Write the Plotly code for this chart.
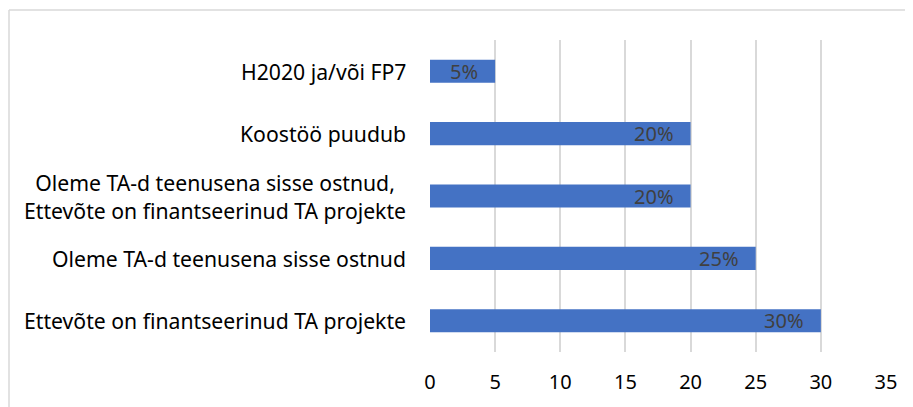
import plotly.graph_objects as go

categories = [
    "Ettevõte on finantseerinud TA projekte",
    "Oleme TA-d teenusena sisse ostnud",
    "Oleme TA-d teenusena sisse ostnud,<br>Ettevõte on finantseerinud TA projekte",
    "Koostöö puudub",
    "H2020 ja/või FP7",
]
values = [30, 25, 20, 20, 5]
labels = ["30%", "25%", "20%", "20%", "5%"]
x_ticks = [0, 5, 10, 15, 20, 25, 30, 35]

FONT = "Noto Sans"
OFF = 8  # page body margin
W, H = 913 - OFF, 407 - OFF
L, R, T, B = 430 - OFF, 27, 40 - OFF, 55

fig = go.Figure()
fig.add_trace(go.Bar(
    x=values, y=categories, orientation="h",
    marker=dict(color="#4472C4", line=dict(width=0)),
    width=0.37, hoverinfo="skip",
))
for v, c, t in zip(values, categories, labels):
    fig.add_annotation(x=v, y=c, text=t, showarrow=False, xanchor="right",
                       xshift=-15, font=dict(family=FONT, size=20, color="#404040"))
for c in categories:
    fig.add_annotation(x=0, xref="paper", y=c, text=c, showarrow=False,
                       xanchor="right", align="center", xshift=-22,
                       font=dict(family=FONT, size=21.2, color="#000000"))

pw, ph = W - L - R, H - T - B
# chart frame (top & left edges visible)
fy = 10 - OFF
fx = 9 - OFF
fig.add_shape(type="line", xref="paper", yref="paper",
              x0=(fx - L) / pw, x1=(W + 20 - L) / pw, y0=1 + (T - fy) / ph, y1=1 + (T - fy) / ph,
              line=dict(color="#D9D9D9", width=1.5))
fig.add_shape(type="line", xref="paper", yref="paper",
              x0=(fx - L) / pw, x1=(fx - L) / pw, y0=1 + (T - fy) / ph, y1=-(B + 20) / ph,
              line=dict(color="#D9D9D9", width=1.5))

fig.update_layout(
    width=W, height=H,
    margin=dict(l=L, r=R, t=T, b=B),
    paper_bgcolor="white", plot_bgcolor="white",
    showlegend=False,
    font=dict(family=FONT, size=20, color="#000000"),
    xaxis=dict(range=[0, 35], tickvals=x_ticks, showgrid=True, gridcolor="#D9D9D9",
               gridwidth=1.5, zeroline=False, showline=False, ticks="",
               tickfont=dict(size=20, color="#000000"), ticklabelstandoff=16),
    yaxis=dict(categoryorder="array", categoryarray=categories, showgrid=False,
               zeroline=False, showline=False, ticks="", showticklabels=False),
)
fig.write_html("out.html")
